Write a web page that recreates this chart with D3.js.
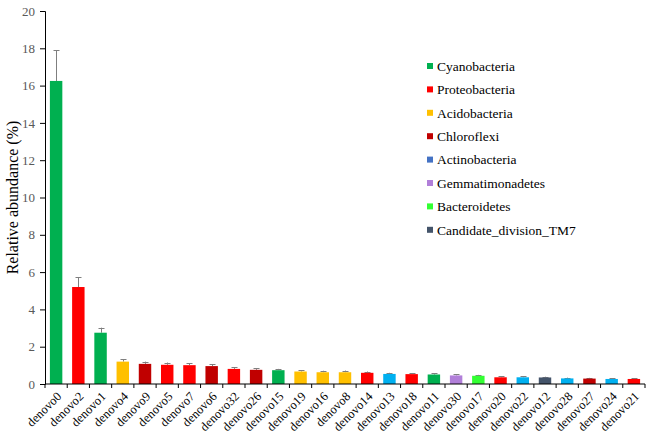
<!DOCTYPE html>
<html>
<head>
<meta charset="utf-8">
<script src="https://cdn.jsdelivr.net/npm/d3@7"></script>
<style>
  body { margin: 0; background: #fff; }
  text { font-family: "Liberation Serif", "Times New Roman", serif; }
</style>
</head>
<body>
<div id="chart"></div>
<script>
// OTUs in plotted order
const otus = ['denovo0', 'denovo2', 'denovo1', 'denovo4', 'denovo9', 'denovo5', 'denovo7',
  'denovo6', 'denovo32', 'denovo26', 'denovo15', 'denovo19', 'denovo16', 'denovo8',
  'denovo14', 'denovo13', 'denovo18', 'denovo11', 'denovo30', 'denovo17', 'denovo20',
  'denovo22', 'denovo12', 'denovo28', 'denovo27', 'denovo24', 'denovo21']
const abundance = [16.25, 5.2, 2.75, 1.2, 1.08, 1.03, 1.01, 0.96, 0.81, 0.76, 0.74, 0.67,
  0.63, 0.63, 0.6, 0.54, 0.53, 0.51, 0.46, 0.44, 0.36, 0.36, 0.35, 0.3, 0.29, 0.27, 0.27]
const errors = [1.65, 0.52, 0.27, 0.13, 0.12, 0.12, 0.11, 0.1, 0.09, 0.08, 0.07, 0.08,
  0.08, 0.09, 0.07, 0.06, 0.06, 0.06, 0.05, 0.05, 0.05, 0.05, 0.04, 0.04, 0.04, 0.04, 0.03]
const phylum = ['Cyanobacteria', 'Proteobacteria', 'Cyanobacteria', 'Acidobacteria', 'Chloroflexi',
  'Proteobacteria', 'Proteobacteria', 'Chloroflexi', 'Proteobacteria', 'Chloroflexi',
  'Cyanobacteria', 'Acidobacteria', 'Acidobacteria', 'Acidobacteria', 'Proteobacteria',
  'Actinobacteria', 'Proteobacteria', 'Cyanobacteria', 'Gemmatimonadetes', 'Bacteroidetes',
  'Proteobacteria', 'Actinobacteria', 'Candidate_division_TM7', 'Actinobacteria', 'Chloroflexi',
  'Actinobacteria', 'Proteobacteria']

const phyla = ['Cyanobacteria', 'Proteobacteria', 'Acidobacteria', 'Chloroflexi',
  'Actinobacteria', 'Gemmatimonadetes', 'Bacteroidetes', 'Candidate_division_TM7']
const barColours = ['#00b050', '#ff0000', '#ffc000', '#c00000', '#00b0f0', '#b17fd9', '#33ff33', '#44546a']
// legend swatch for Actinobacteria is a darker blue than its bars
const legendColours = ['#00b050', '#ff0000', '#ffc000', '#c00000', '#4472c4', '#b17fd9', '#33ff33', '#44546a']
const yTicks = [0, 2, 4, 6, 8, 10, 12, 14, 16, 18, 20]

const width = 652, height = 436
const margin = { top: 11, right: 7, bottom: 52, left: 45 }

const svg = d3.select('#chart').append('svg')
  .attr('width', width)
  .attr('height', height)

const x = d3.scaleBand()
  .domain(otus)
  .range([margin.left, width - margin.right])
  .paddingInner(0.44)
  .paddingOuter(0.22)

const y = d3.scaleLinear()
  .domain([0, 20])
  .range([height - margin.bottom, margin.top])

const colour = d3.scaleOrdinal().domain(phyla).range(barColours)

const rows = otus.map((o, i) => ({ otu: o, v: abundance[i], e: errors[i], p: phylum[i] }))
const cx = d => Math.round(x(d.otu) + x.bandwidth() / 2)

// error bars (upper only), drawn before bars
const gErr = svg.append('g')
  .attr('stroke', '#7f7f7f')
  .attr('stroke-width', 1)
gErr.selectAll('line.stem')
  .data(rows)
  .join('line')
  .attr('x1', d => cx(d) + 0.5)
  .attr('x2', d => cx(d) + 0.5)
  .attr('y1', d => y(d.v))
  .attr('y2', d => y(d.v + d.e))
gErr.selectAll('line.cap')
  .data(rows)
  .join('line')
  .attr('x1', d => cx(d) - 2.5)
  .attr('x2', d => cx(d) + 3.5)
  .attr('y1', d => Math.round(y(d.v + d.e)) + 0.5)
  .attr('y2', d => Math.round(y(d.v + d.e)) + 0.5)

// bars
svg.append('g').selectAll('rect')
  .data(rows)
  .join('rect')
  .attr('x', d => x(d.otu))
  .attr('width', x.bandwidth())
  .attr('y', d => y(d.v))
  .attr('height', d => y(0) - y(d.v))
  .attr('fill', d => colour(d.p))

// y axis
const yAxis = svg.append('g')
  .attr('transform', `translate(${margin.left},0)`)
  .call(d3.axisLeft(y).tickValues(yTicks).tickSize(5).tickPadding(5))
yAxis.select('.domain').attr('stroke', '#000')
yAxis.selectAll('.tick line').attr('stroke', '#000')
yAxis.selectAll('.tick text')
  .attr('fill', '#595959')
  .style('font-size', '13px')

// x axis: ticks sit between categories
const xAxis = svg.append('g')
  .attr('transform', `translate(0,${y(0)})`)
xAxis.append('line')
  .attr('x1', margin.left)
  .attr('x2', width - margin.right)
  .attr('stroke', '#000')
xAxis.selectAll('line.sep')
  .data(d3.range(otus.length + 1))
  .join('line')
  .attr('x1', i => margin.left + i * x.step())
  .attr('x2', i => margin.left + i * x.step())
  .attr('y1', 0)
  .attr('y2', 4)
  .attr('stroke', '#000')

xAxis.selectAll('text')
  .data(otus)
  .join('text')
  .attr('transform', d => `translate(${x(d) + x.bandwidth() / 2 + 3},10) rotate(-45)`)
  .attr('text-anchor', 'end')
  .attr('dy', '0.35em')
  .attr('fill', '#000')
  .style('font-size', '12.5px')
  .text(d => d)

// y axis title
svg.append('text')
  .attr('transform', `translate(18,${(y(0) + y(20)) / 2}) rotate(-90)`)
  .attr('text-anchor', 'middle')
  .style('font-size', '16px')
  .attr('fill', '#000')
  .text('Relative abundance (%)')

// legend
const legend = svg.append('g').attr('transform', 'translate(427,66)')
const li = legend.selectAll('g')
  .data(phyla)
  .join('g')
  .attr('transform', (d, i) => `translate(0,${i * 23.4})`)
li.append('rect')
  .attr('x', 0)
  .attr('y', -3)
  .attr('width', 6)
  .attr('height', 6)
  .attr('fill', (d, i) => legendColours[i])
li.append('text')
  .attr('x', 10)
  .attr('dy', '0.35em')
  .style('font-size', '13.5px')
  .attr('fill', '#000')
  .text(d => d)
</script>
</body>
</html>
